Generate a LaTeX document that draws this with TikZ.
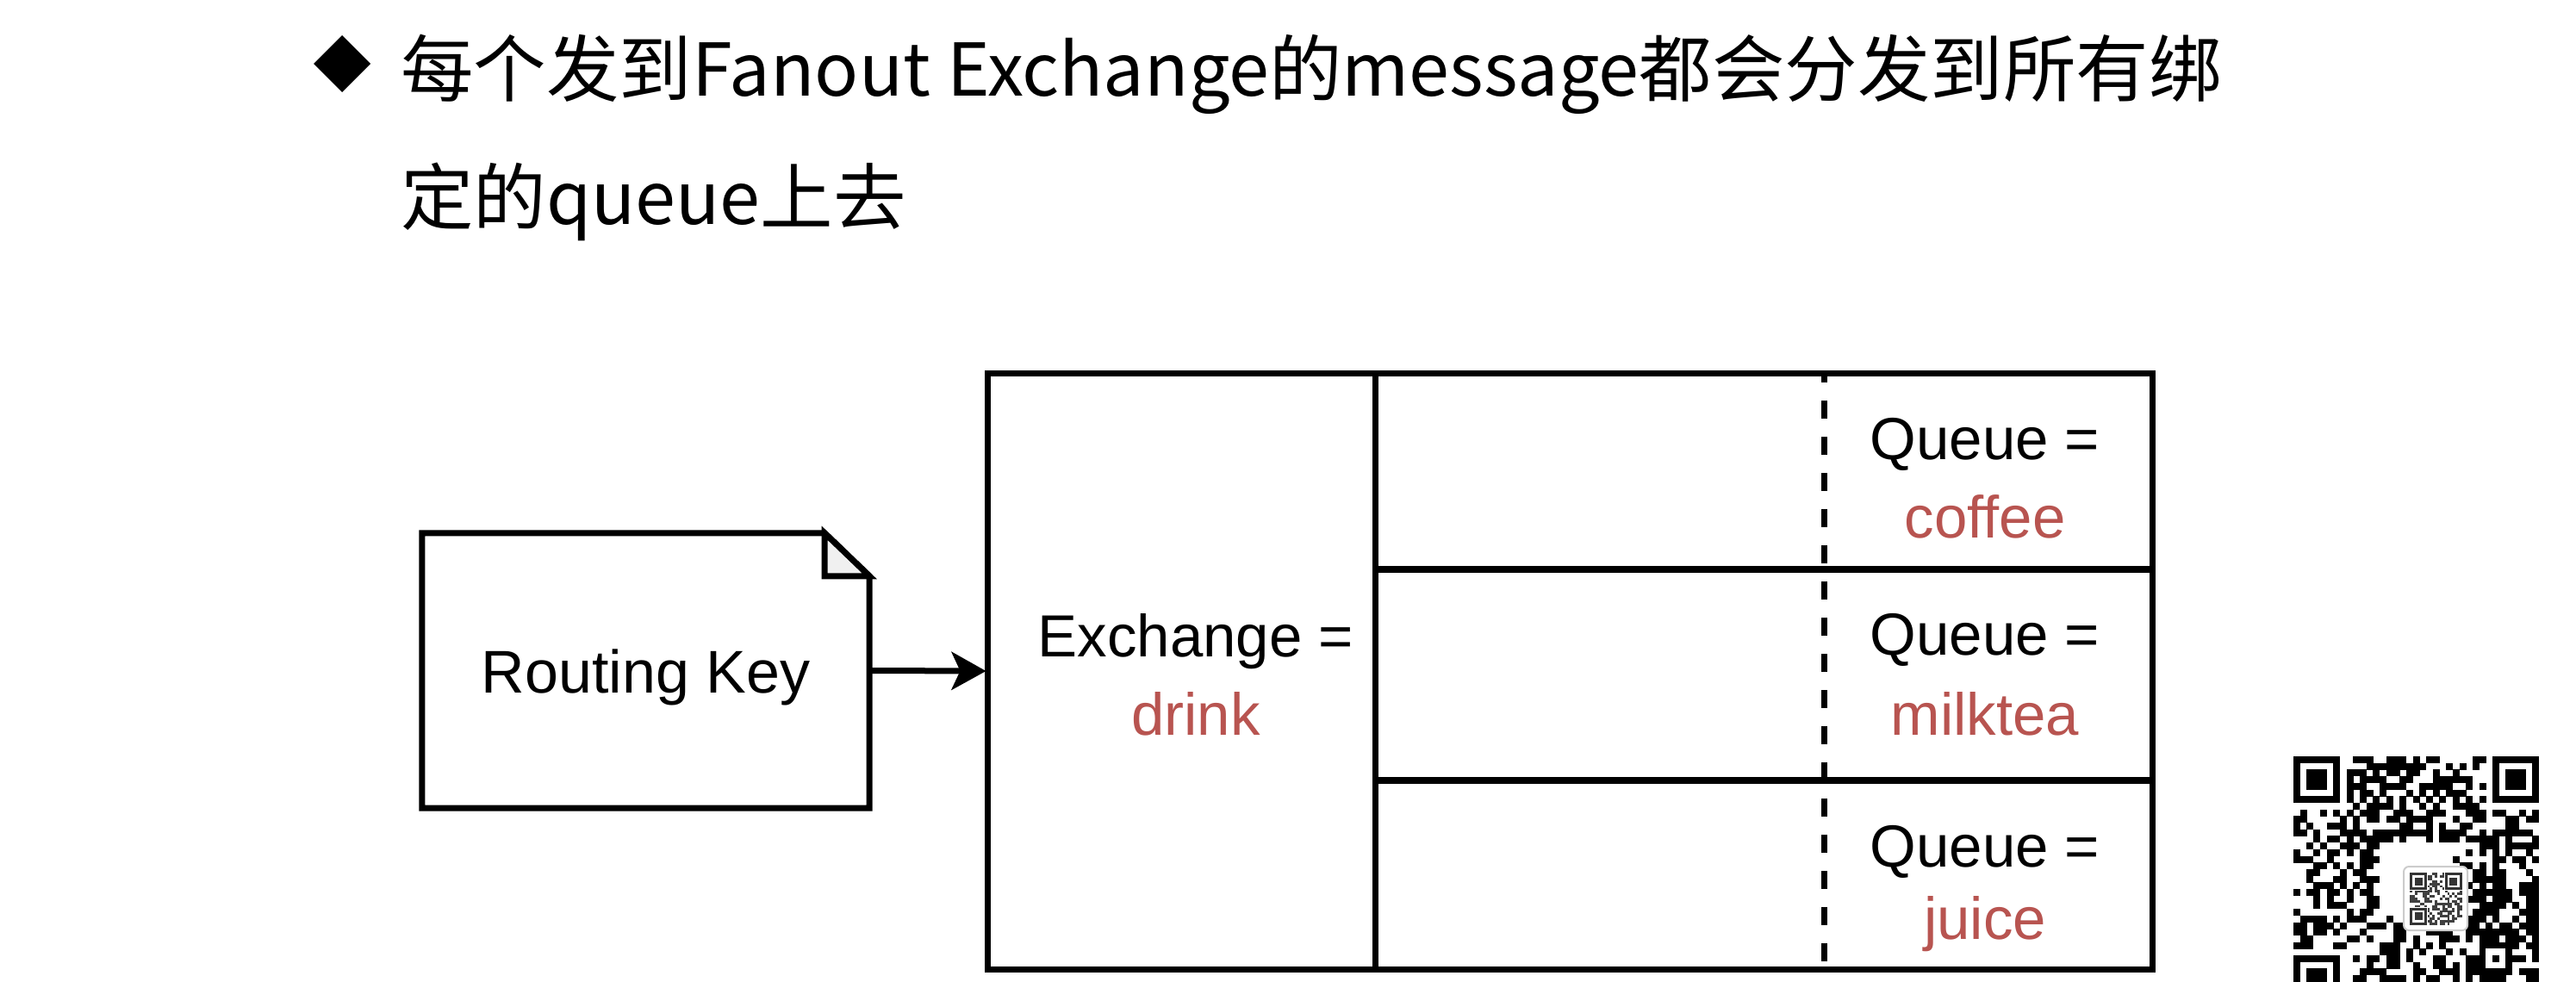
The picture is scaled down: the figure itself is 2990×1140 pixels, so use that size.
\documentclass[tikz,border=0pt]{standalone}
\usepackage{fontspec}
\setmainfont{Liberation Sans}
\newfontfamily\cjk{Noto Sans CJK SC}
\usetikzlibrary{arrows.meta}
\definecolor{qred}{RGB}{184,84,80}
\definecolor{foldgray}{RGB}{240,240,240}
\begin{document}
\begin{tikzpicture}[x=1pt,y=-1pt,
  diag/.style={line width=7pt, line join=miter},
  lbl/.style={font=\fontsize{69}{80}\selectfont, inner sep=0pt, align=center},
  ttl/.style={font=\cjk\fontsize{84.5}{100}\selectfont, inner sep=0pt, anchor=base west},
  qrm/.style={fill=black}]
\useasboundingbox (0,0) rectangle (2990,1140);
\fill[white] (0,0) rectangle (2990,1140);

% title
\fill (397,41) -- (430,74) -- (397,107) -- (364,74) -- cycle;
\node[ttl] (t1) at (465,111) {每个发到Fanout Exchange的message都会分发到所有绑};
\node[ttl] (t2) at (465,260) {定的queue上去};

% routing key note
\node[minimum width=519pt, minimum height=319pt, inner sep=0pt] (rk) at (749.5,778.5) {};
\node[lbl, font=\fontsize{70}{80}\selectfont] (rkt) at ([yshift=-8pt]rk.center) {Routing Key};
\draw[diag] (rk.north west) -- ([xshift=-52pt]rk.north east) -- ([yshift=-50pt]rk.north east) -- (rk.south east) -- (rk.south west) -- cycle;
\filldraw[diag, fill=foldgray] ([xshift=-52pt]rk.north east) -- ([xshift=-52pt,yshift=-50pt]rk.north east) -- ([yshift=-50pt]rk.north east) -- cycle;

% exchange table
\node[draw, diag, minimum width=1352pt, minimum height=692pt, inner sep=0pt] (ex) at (1822,779) {};
\coordinate (vt) at (1596,433);
\coordinate (vb) at (1596,1125);
\coordinate (h1l) at (1596,661);
\coordinate (h1r) at (2498,661);
\coordinate (h2l) at (1596,906);
\coordinate (h2r) at (2498,906);
\coordinate (dt) at (2117,433);
\coordinate (db) at (2117,1125);
\draw[diag] (vt) -- (vb);
\draw[line width=7.5pt] (h1l) -- (h1r);
\draw[line width=7.5pt] (h2l) -- (h2r);
\draw[line width=7pt, dash pattern=on 21pt off 21pt, dash phase=10pt] (dt) -- (db);

\node[lbl] (exl) at (1388,745) {Exchange =};
\node[lbl, text=qred] (exv) at (1388,829) {drink};
\node[lbl] (q1l) at (2304,516) {Queue =};
\node[lbl, text=qred] (q1v) at (2304,600) {coffee};
\node[lbl] (q2l) at (2304,743) {Queue =};
\node[lbl, text=qred] (q2v) at (2304,829) {milktea};
\node[lbl] (q3l) at (2304,989) {Queue =};
\node[lbl, text=qred] (q3v) at (2304,1073) {juice};

% arrow
\draw[line width=7pt, -{Stealth[length=40pt, width=44pt, inset=10pt]}, shorten >=-2pt] (rk.east) -- (ex.west);

% QR code (watermark, cut by the page edge)
\begin{scope}
\clip (2600,860) rectangle (2990,1140);
\def\m{7.7}
\pgfmathsetseed{4711}
\foreach \r in {0,...,36} {
  \foreach \c in {0,...,36} {
    \pgfmathrandominteger{\b}{0}{1}
    \pgfmathparse{(\b==1) && !((\r<8 && \c<8) || (\r<8 && \c>28) || (\r>28 && \c<8) || (\r>12 && \r<24 && \c>12 && \c<24) || (\r>27 && \r<33 && \c>27 && \c<33) || \r==6 || \c==6)}
    \ifdim\pgfmathresult pt>0.5pt
      \fill (2662+\c*\m,878+\r*\m) rectangle +(\m+0.3,\m+0.3);
    \fi
  }
}
% timing patterns
\foreach \k in {8,10,...,28} {
  \fill (2662+\k*\m,878+6*\m) rectangle +(\m+0.3,\m+0.3);
  \fill (2662+6*\m,878+\k*\m) rectangle +(\m+0.3,\m+0.3);
}
% finder patterns
\foreach \fc/\fr in {0/0,30/0,0/30} {
  \fill (2662+\fc*\m,878+\fr*\m) rectangle +(7*\m,7*\m);
  \fill[white] (2662+\fc*\m+\m,878+\fr*\m+\m) rectangle +(5*\m,5*\m);
  \fill (2662+\fc*\m+2*\m,878+\fr*\m+2*\m) rectangle +(3*\m,3*\m);
}
% alignment pattern
\fill (2662+28*\m,878+28*\m) rectangle +(5*\m,5*\m);
\fill[white] (2662+29*\m,878+29*\m) rectangle +(3*\m,3*\m);
\fill (2662+30*\m,878+30*\m) rectangle +(\m,\m);
% centre logo
\filldraw[fill=white, draw=gray!40, line width=2pt, rounded corners=6pt] (2790,1006) rectangle (2864,1080);
\pgfmathsetseed{99}
\foreach \r in {0,...,20} {
  \foreach \c in {0,...,20} {
    \pgfmathrandominteger{\b}{0}{1}
    \ifnum\b=1
      \fill[black!75] (2797+\c*2.9,1013+\r*2.9) rectangle +(2.9,2.9);
    \fi
  }
}
\foreach \fc/\fr in {0/0,14/0,0/14} {
  \fill[white] (2797+\fc*2.9-1,1013+\fr*2.9-1) rectangle +(7*2.9+2,7*2.9+2);
  \draw[black!80, line width=2.9pt] (2797+\fc*2.9+1.45,1013+\fr*2.9+1.45) rectangle +(6*2.9,6*2.9);
  \fill[black!80] (2797+\fc*2.9+2*2.9,1013+\fr*2.9+2*2.9) rectangle +(3*2.9,3*2.9);
}
\end{scope}
\end{tikzpicture}
\end{document}
